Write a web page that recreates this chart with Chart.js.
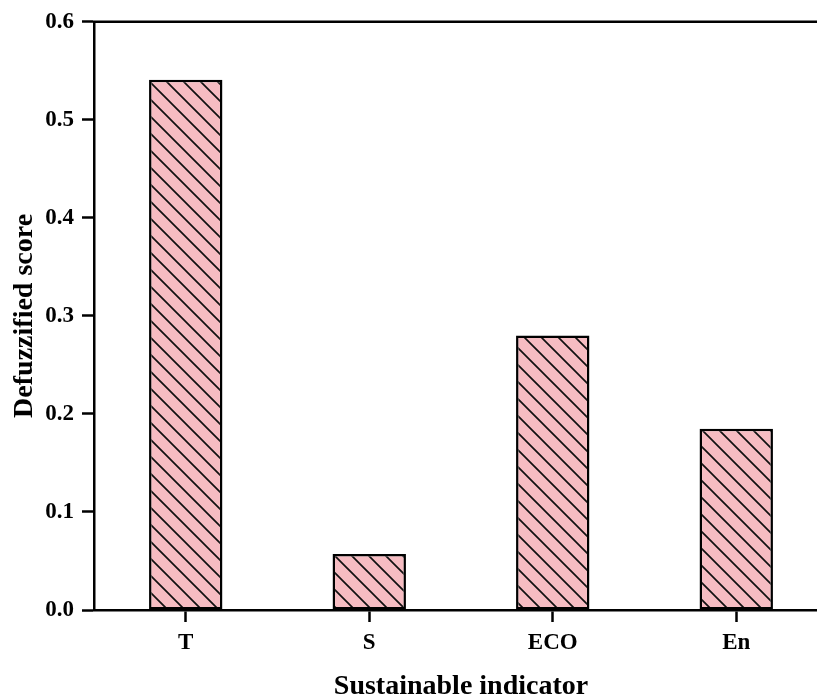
<!DOCTYPE html>
<html>
<head>
<meta charset="utf-8">
<script src="https://cdn.jsdelivr.net/npm/chart.js@4.4.1/dist/chart.umd.min.js"></script>
<style>
  html, body { margin: 0; padding: 0; background: #ffffff; overflow: hidden; }
  #wrap { position: absolute; left: 0; top: 0; width: 860px; height: 698px; }
</style>
</head>
<body>
<div id="wrap"><canvas id="chart"></canvas></div>
<script>
// Defuzzified score of each sustainability indicator
const categories = ['T', 'S', 'ECO', 'En'];
const scores = [0.541, 0.057, 0.280, 0.185];
const yTicks = [0.0, 0.1, 0.2, 0.3, 0.4, 0.5, 0.6];

const FONT = '"Liberation Serif", "Times New Roman", serif';

// Pink fill with black back-slash hatching
function hatchPattern() {
  const s = 17;
  const c = document.createElement('canvas');
  c.width = s; c.height = s;
  const g = c.getContext('2d');
  g.fillStyle = '#F6BCC2';
  g.fillRect(0, 0, s, s);
  g.strokeStyle = '#111111';
  g.lineWidth = 1.7;
  g.beginPath();
  g.moveTo(-2, -2); g.lineTo(s + 2, s + 2);
  g.moveTo(s - 2, -2); g.lineTo(s + 2, 2);
  g.moveTo(-2, s - 2); g.lineTo(2, s + 2);
  g.stroke();
  return g.createPattern(c, 'repeat');
}

// Closes the frame along the top and right of the plot area
const frame = {
  id: 'frame',
  afterDraw(chart) {
    const { ctx, chartArea: a } = chart;
    ctx.save();
    ctx.strokeStyle = '#000';
    ctx.lineWidth = 2.5;
    ctx.beginPath();
    ctx.moveTo(a.left - 1, a.top);
    ctx.lineTo(a.right, a.top);
    ctx.lineTo(a.right, a.bottom);
    ctx.stroke();
    ctx.restore();
  }
};

new Chart(document.getElementById('chart'), {
  type: 'bar',
  data: {
    labels: categories,
    datasets: [{
      data: scores,
      backgroundColor: hatchPattern(),
      borderColor: '#000',
      borderWidth: 2.5,
      borderSkipped: false,
      barPercentage: 0.4,
      categoryPercentage: 1.0
    }]
  },
  options: {
    responsive: true,
    maintainAspectRatio: false,
    devicePixelRatio: 1,
    animation: false,
    layout: { padding: { top: 18, right: 32, left: 0, bottom: 0 } },
    plugins: { legend: { display: false }, tooltip: { enabled: false } },
    scales: {
      x: {
        afterFit(scale) { scale.height = 88; },
        grid: { display: true, drawOnChartArea: false, drawTicks: true, tickLength: 12, tickWidth: 2.5, tickColor: '#000', offset: false },
        border: { display: true, color: '#000', width: 2.5 },
        ticks: { color: '#000', font: { family: FONT, size: 23, weight: 'bold' }, padding: 7, maxRotation: 0 },
        title: {
          display: true,
          text: 'Sustainable indicator',
          color: '#000',
          font: { family: FONT, size: 28, weight: 'bold', lineHeight: 1 },
          padding: { top: 0, bottom: -3 }
        }
      },
      y: {
        min: 0,
        max: 0.6,
        afterFit(scale) { scale.width = 94; },
        afterBuildTicks(scale) { scale.ticks = yTicks.map(v => ({ value: v })); },
        grid: { display: true, drawOnChartArea: false, drawTicks: true, tickLength: 12, tickWidth: 2.5, tickColor: '#000' },
        border: { display: true, color: '#000', width: 2.5 },
        ticks: {
          color: '#000',
          font: { family: FONT, size: 23, weight: 'bold' },
          padding: 8,
          callback: v => Number(v).toFixed(1)
        },
        title: {
          display: true,
          text: 'Defuzzified score',
          color: '#000',
          font: { family: FONT, size: 28, weight: 'bold', lineHeight: 1 },
          padding: { top: 11, bottom: 0 }
        }
      }
    }
  },
  plugins: [frame]
});
</script>
</body>
</html>
